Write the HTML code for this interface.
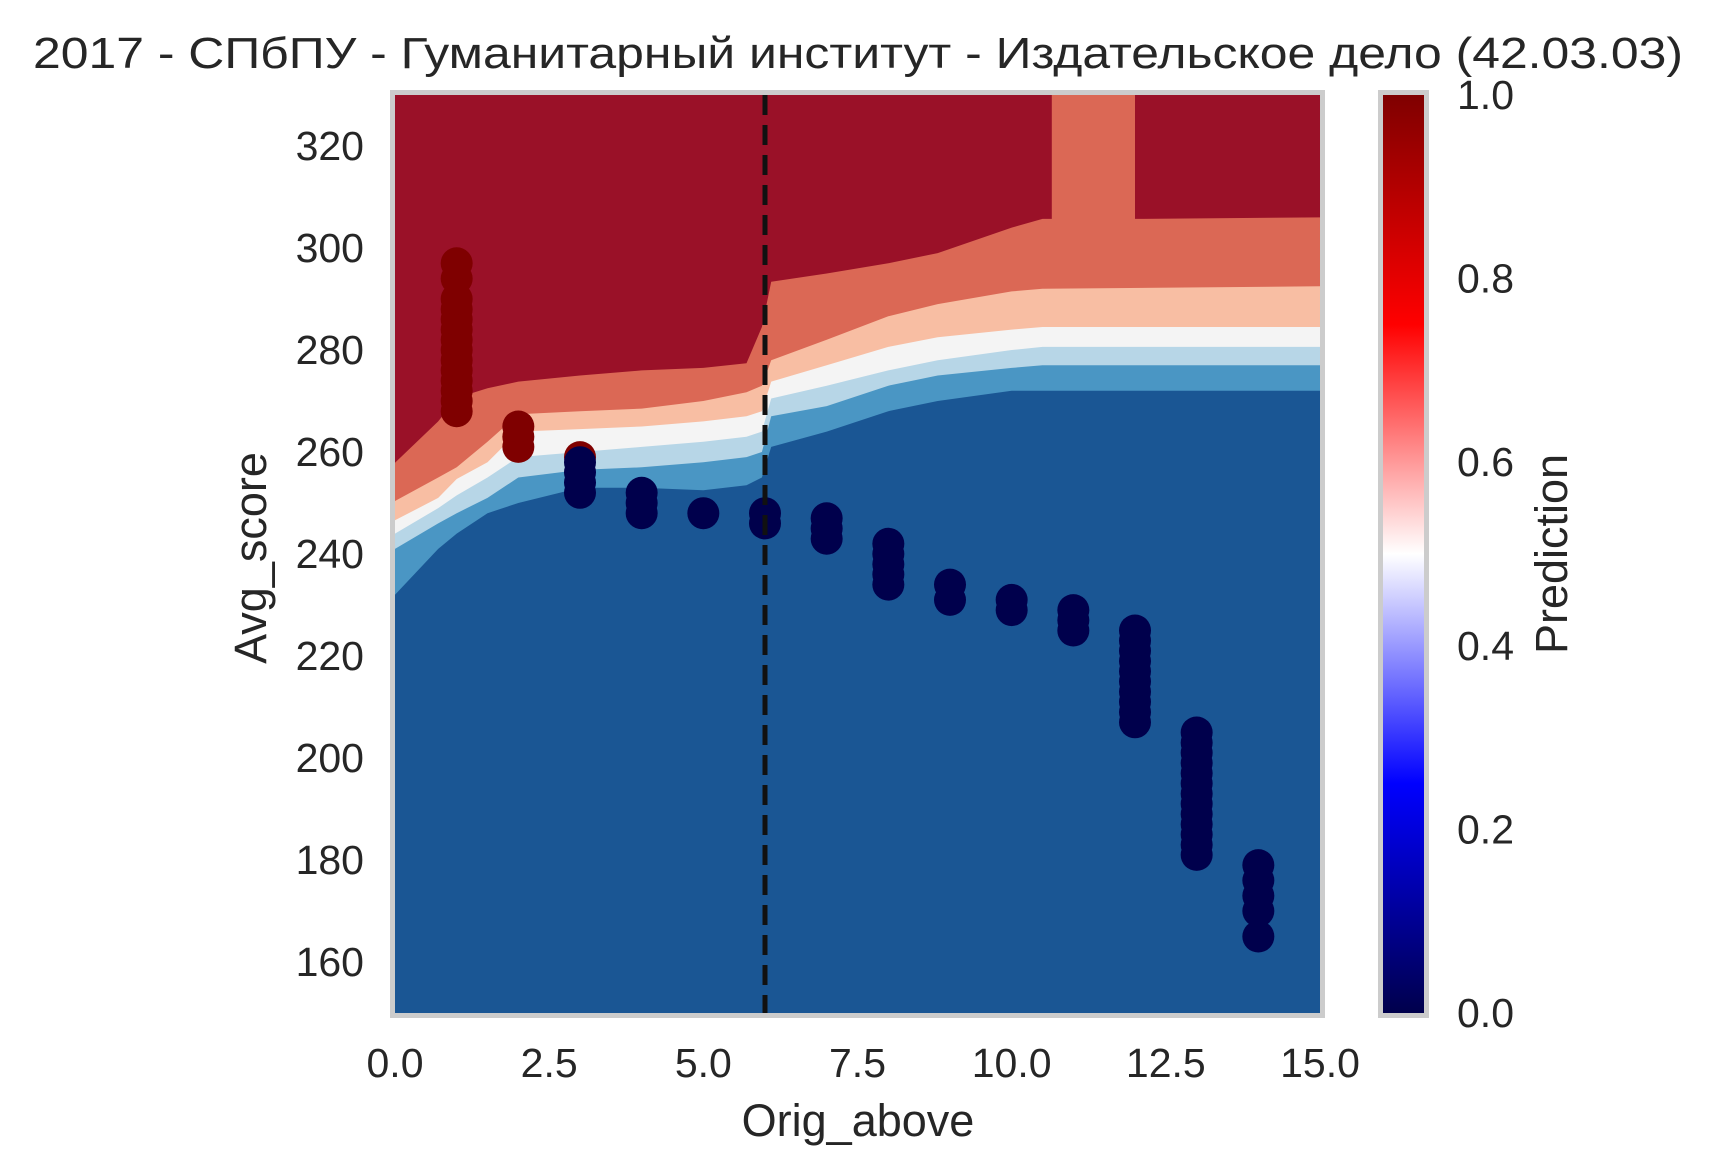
<!DOCTYPE html>
<html><head><meta charset="utf-8"><style>
html,body{margin:0;padding:0;background:#fff}
svg{display:block}
text{font-family:"Liberation Sans","DejaVu Sans",sans-serif;fill:#262626}
</style></head><body>
<svg id="chart" width="1713" height="1174" viewBox="0 0 1713 1174" xmlns="http://www.w3.org/2000/svg">
<defs>
<linearGradient id="seismic" x1="0" y1="1" x2="0" y2="0">
<stop offset="0" stop-color="#00004c"/>
<stop offset="0.25" stop-color="#0000ff"/>
<stop offset="0.5" stop-color="#ffffff"/>
<stop offset="0.75" stop-color="#ff0000"/>
<stop offset="1" stop-color="#7f0000"/>
</linearGradient>
<clipPath id="plotclip"><rect x="395" y="95" width="925" height="918"/></clipPath>
</defs>
<text x="858" y="68" text-anchor="middle" font-size="44" textLength="1650" lengthAdjust="spacingAndGlyphs">2017 - СПбПУ - Гуманитарный институт - Издательское дело (42.03.03)</text>
<g id="contours" clip-path="url(#plotclip)"></g>
<g id="points" clip-path="url(#plotclip)"></g>
<line id="cutline" stroke="#111" stroke-width="5" stroke-dasharray="20,10"/>
<rect x="392.5" y="92.5" width="930" height="923" fill="none" stroke="#cccccc" stroke-width="5"/>
<g id="xticks"></g>
<g id="yticks"></g>
<text x="858" y="1136" text-anchor="middle" font-size="45">Orig_above</text>
<text transform="translate(266,558) rotate(-90)" text-anchor="middle" font-size="45">Avg_score</text>
<rect x="1383" y="95" width="41" height="918" fill="url(#seismic)"/>
<rect x="1380.5" y="92.5" width="46" height="923" fill="none" stroke="#cccccc" stroke-width="5"/>
<g id="cticks"></g>
<text transform="translate(1567,554) rotate(-90)" text-anchor="middle" font-size="45">Prediction</text>
</svg>
<script>
// axis ranges
const xDomain = [0, 15];
const yDomain = [150, 330];
const xTickVals = [0, 2.5, 5, 7.5, 10, 12.5, 15];
const xTickLabels = ["0.0", "2.5", "5.0", "7.5", "10.0", "12.5", "15.0"];
const yTickVals = [160, 180, 200, 220, 240, 260, 280, 300, 320];
const cTickVals = [0, 0.2, 0.4, 0.6, 0.8, 1.0];
const cTickLabels = ["0.0", "0.2", "0.4", "0.6", "0.8", "1.0"];
const cutoffX = 6;
// contour levels: colors bottom to top
const levelColors = ["#1a5694", "#4a96c4", "#b7d6e7", "#f4f4f4", "#f8bea3", "#db6855", "#9a1128"];
// boundary x samples and y values (each boundary separates level k from k+1)
const bx = [0, 0.7, 1, 1.5, 2, 3, 4, 5, 5.7, 5.95, 6.1, 7, 8, 8.8, 10, 10.5, 15];
const boundary1 = [232, 241, 244, 248, 250, 253, 253, 252.5, 253.5, 255, 261, 264, 268, 270, 272, 272, 272];
const boundary2 = [241, 246, 248, 251, 255, 256.5, 257, 258, 259, 260, 267, 269, 273, 275, 276.5, 277, 277];
const boundary3 = [244, 249, 251.5, 255, 259, 260, 261, 262, 263, 264, 270.5, 273, 276, 278, 280, 280.6, 280.6];
const boundary4 = [246.6, 251, 254.7, 258, 264, 264.5, 265, 266, 267, 268, 273.8, 277, 280.6, 282.5, 284, 284.5, 284.5];
const boundary5 = [250.4, 255, 257, 262, 267.4, 268, 268.5, 270, 271.7, 273, 278, 282, 286.6, 289, 291.5, 292, 292.5];
const boundary6 = [257.9, 266, 270.6, 272.5, 273.8, 275, 276, 276.5, 277.4, 284.5, 293.4, 295, 297, 299, 304, 305.7, 306];
// orange vertical band near top
const bandX = [10.65, 12.0];
// scatter data
const redX = [1,1,1,1,1,1,1,1,1,1,1,1,1,1, 2,2,2, 3];
const redY = [268,270,272,274,276,278,280,282,284,286,288,290,294,297, 261,263,265, 259];
const blueX = [3,3,3,3, 4,4,4, 5, 6,6, 7,7,7, 8,8,8,8,8, 9,9, 10,10, 11,11,11, 12,12,12,12,12,12,12,12,12,12, 13,13,13,13,13,13,13,13,13,13,13,13,13, 14,14,14,14,14];
const blueY = [252,254,256,258, 248,250,252, 248, 246,248, 243,245,247, 234,236,238,240,242, 231,234, 229,231, 225,227,229, 207,209,211,213,215,217,219,221,223,225, 181,183,185,187,189,191,193,195,197,199,201,203,205, 165,170,173,176,179];

const PL = 395, PR = 1320, PT = 95, PB = 1013;
const sx = v => PL + (v - xDomain[0]) / (xDomain[1] - xDomain[0]) * (PR - PL);
const sy = v => PB - (v - yDomain[0]) / (yDomain[1] - yDomain[0]) * (PB - PT);
const cy = v => PB - v * (PB - PT);
const NS = "http://www.w3.org/2000/svg";
function mk(tag, parent) { const e = document.createElementNS(NS, tag); parent.appendChild(e); return e; }

const cg = document.getElementById('contours');
const base = mk('rect', cg);
base.setAttribute('x', PL); base.setAttribute('y', PT);
base.setAttribute('width', PR - PL); base.setAttribute('height', PB - PT);
base.setAttribute('fill', levelColors[0]);


const bounds = [boundary1, boundary2, boundary3, boundary4, boundary5, boundary6];
bounds.forEach((b, k) => {
  let pts = [];
  let bandDone = false;
  bx.forEach((x, i) => {
    if (k === 5 && x > bandX[0] && pts.length && !bandDone) {
      const yb = b[i - 1];
      pts.push([sx(bandX[0]), sy(yb)], [sx(bandX[0]), sy(yDomain[1] + 5)], [sx(bandX[1]), sy(yDomain[1] + 5)], [sx(bandX[1]), sy(yb)]);
      bandDone = true;
    }
    pts.push([sx(x), sy(b[i])]);
  });
  pts.push([sx(xDomain[1]) + 5, sy(b[b.length - 1])], [sx(xDomain[1]) + 5, PT - 5], [PL - 5, PT - 5], [PL - 5, sy(b[0])]);
  const p = mk('polygon', cg);
  p.setAttribute('points', pts.map(q => q[0].toFixed(1) + ',' + q[1].toFixed(1)).join(' '));
  p.setAttribute('fill', levelColors[k + 1]);
  
  
});

const pg = document.getElementById('points');
redX.forEach((x, i) => {
  const c = mk('circle', pg);
  c.setAttribute('cx', sx(x)); c.setAttribute('cy', sy(redY[i])); c.setAttribute('r', 16);
  c.setAttribute('fill', '#7f0000');
  
  
});
blueX.forEach((x, i) => {
  const c = mk('circle', pg);
  c.setAttribute('cx', sx(x)); c.setAttribute('cy', sy(blueY[i])); c.setAttribute('r', 16);
  c.setAttribute('fill', '#00004c');
  
  
});

const cl = document.getElementById('cutline');
cl.setAttribute('x1', sx(cutoffX)); cl.setAttribute('x2', sx(cutoffX));
cl.setAttribute('y1', PT); cl.setAttribute('y2', PB);

const xg = document.getElementById('xticks');
xTickVals.forEach((v, i) => {
  const t = mk('text', xg);
  t.setAttribute('x', sx(v)); t.setAttribute('y', 1077);
  t.setAttribute('text-anchor', 'middle'); t.setAttribute('font-size', '41');
  t.textContent = xTickLabels[i];
  
  
});
const yg = document.getElementById('yticks');
yTickVals.forEach(v => {
  const t = mk('text', yg);
  t.setAttribute('x', 364); t.setAttribute('y', sy(v) + 14);
  t.setAttribute('text-anchor', 'end'); t.setAttribute('font-size', '41');
  t.textContent = String(v);
  
  
});
const cgt = document.getElementById('cticks');
cTickVals.forEach((v, i) => {
  const t = mk('text', cgt);
  t.setAttribute('x', 1457); t.setAttribute('y', cy(v) + 14);
  t.setAttribute('font-size', '41');
  t.textContent = cTickLabels[i];
  
  
});
</script>
</body></html>
